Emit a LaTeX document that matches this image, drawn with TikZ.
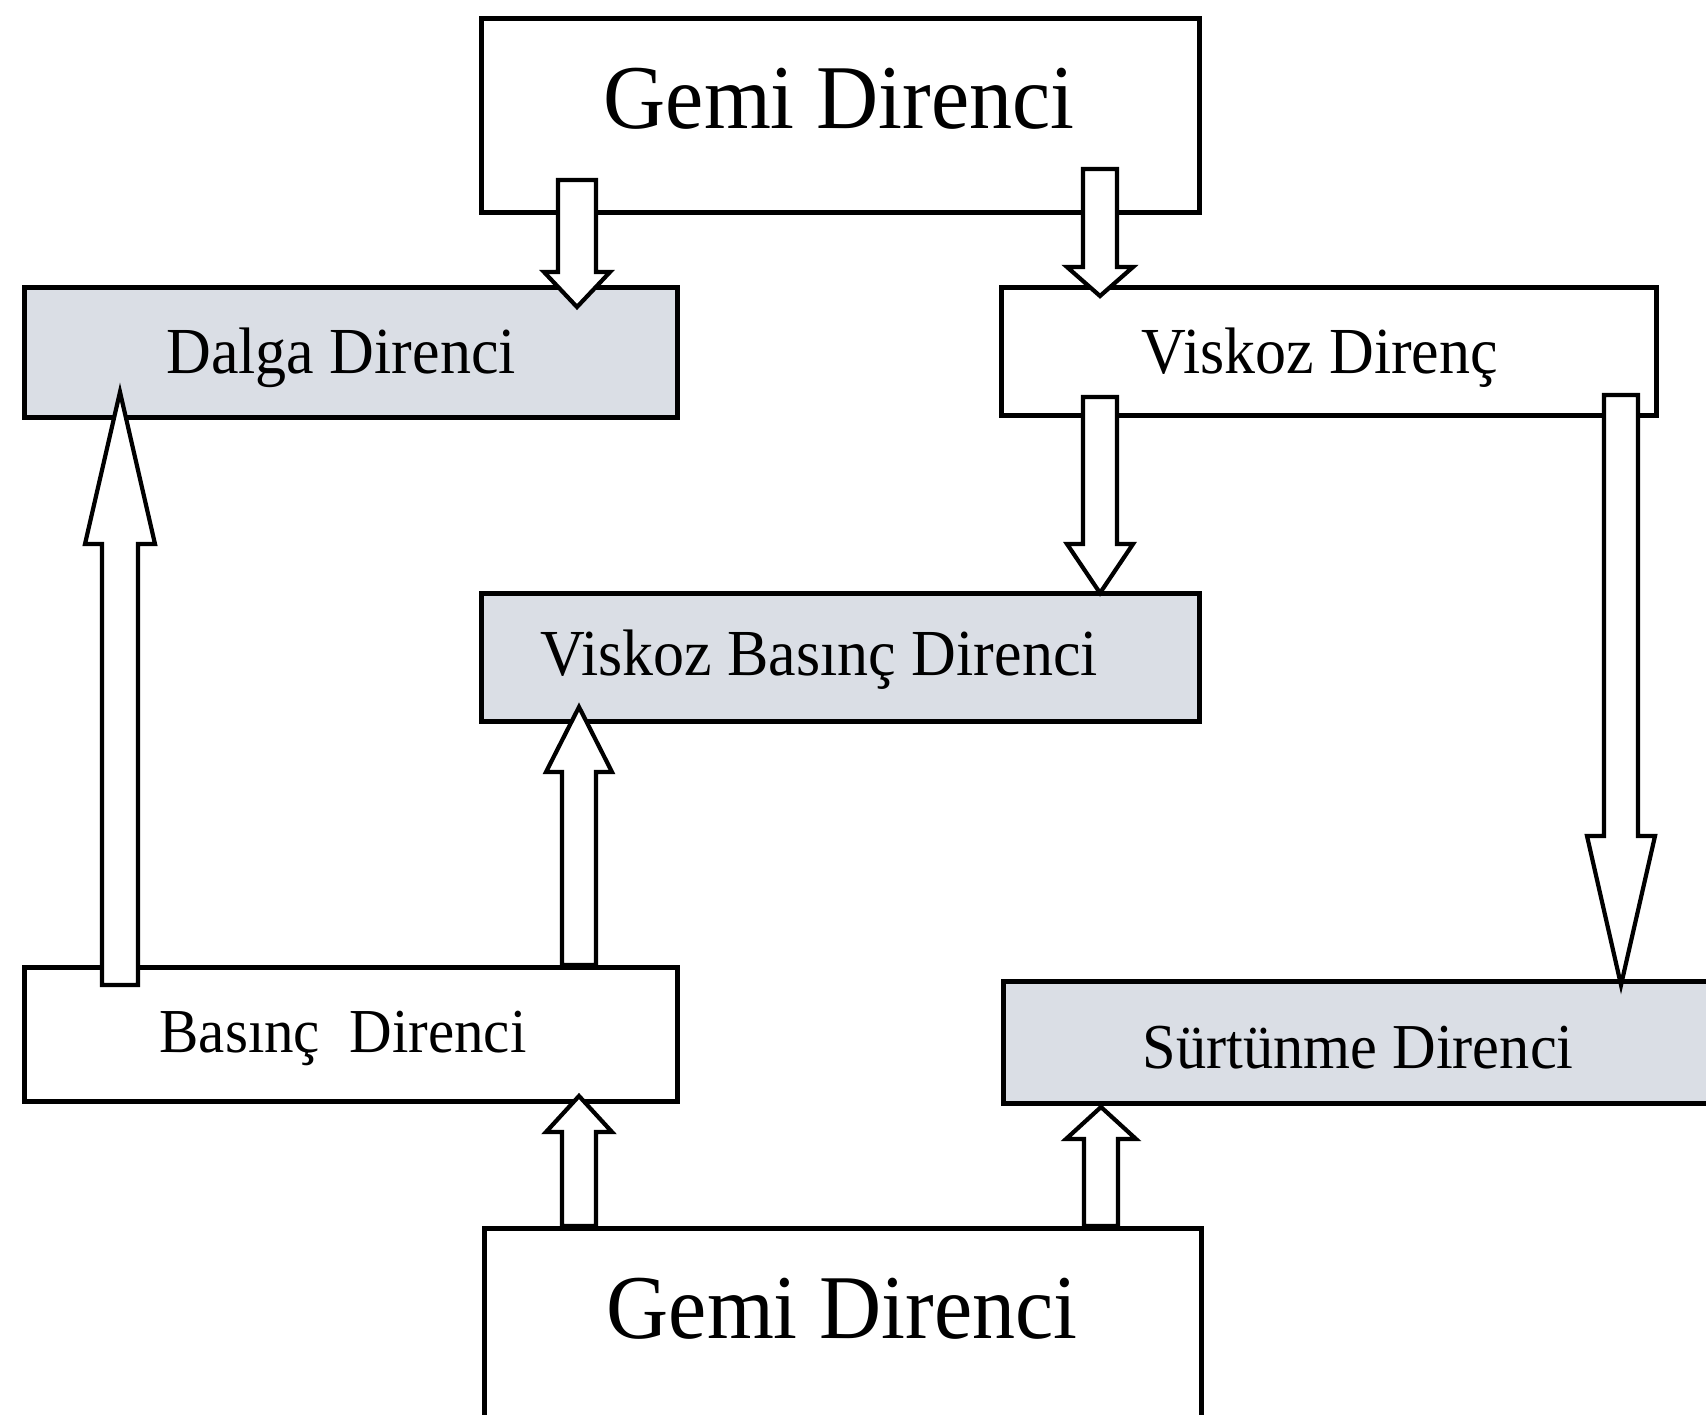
\documentclass[tikz,border=0pt]{standalone}
\usepackage{fontspec}
\setmainfont{Liberation Serif}
\usetikzlibrary{calc}
\definecolor{boxgray}{RGB}{218,222,229}
\tikzset{
  x=0.5pt, y=-0.5pt,
  box/.style={draw=black, line width=2.6pt, fill=white, rectangle, inner sep=0pt, anchor=north west},
  graybox/.style={box, fill=boxgray},
  barrow/.style={draw=black, line width=2.1pt, fill=white, line join=miter},
  bigtxt/.style={font=\fontsize{43}{50}\selectfont, anchor=base, inner sep=0pt},
  txt/.style={font=\fontsize{31}{36}\selectfont, anchor=base, inner sep=0pt},
}
% #1 start, #2 tip, #3 shaft half width, #4 head half width, #5 head length
\newcommand{\blockarr}[5]{%
  \draw[barrow] let \p1=(#1), \p2=(#2), \n1={((\y2>\y1)*2-1)*#5} in
    ({\x1-#3},\y1) -- ({\x1-#3},{\y2-\n1}) -- ({\x1-#4},{\y2-\n1}) -- (\x2,\y2)
    -- ({\x1+#4},{\y2-\n1}) -- ({\x1+#3},{\y2-\n1}) -- ({\x1+#3},\y1) -- cycle;}
\begin{document}
\begin{tikzpicture}
\useasboundingbox (0,0) rectangle (1706,1414);
\clip (0,0) rectangle (1706,1414);
\fill[white] (0,0) rectangle (1706,1414);

% boxes
\node[box, minimum width=359pt, minimum height=97pt] (top) at (479,16) {};
\node[graybox, minimum width=326.5pt, minimum height=65pt] (dalga) at (22,285) {};
\node[box, minimum width=327.5pt, minimum height=64pt] (visk) at (999,285) {};
\node[graybox, minimum width=359pt, minimum height=64pt] (vbd) at (479,591) {};
\node[box, minimum width=326.5pt, minimum height=67pt] (bas) at (22,965) {};
\node[graybox, minimum width=359.5pt, minimum height=61pt] (surt) at (1001,979) {};
\node[box, minimum width=358.5pt, minimum height=99.5pt] (bot) at (482,1226) {};

% texts
\node[bigtxt] (ttop) at (839,128) {\scalebox{1}[1.06]{Gemi Direnci}};
\node[txt] (tdalga) at (341,373) {\scalebox{1}[1.06]{Dalga Direnci}};
\node[txt] (tvisk) at (1320,373) {\scalebox{1}[1.06]{Viskoz Direnç}};
\node[txt] (tvbd) at (819,675) {\scalebox{1}[1.06]{Viskoz Basınç Direnci}};
\node[txt, font=\fontsize{29.5}{35}\selectfont] (tbas) at (343,1052) {\scalebox{1}[1.06]{Basınç\ \ Direnci}};
\node[txt, font=\fontsize{30.2}{35}\selectfont] (tsurt) at (1358,1068) {\scalebox{1}[1.06]{Sürtünme Direnci}};
\node[bigtxt] (tbot) at (842,1338) {\scalebox{1}[1.06]{Gemi Direnci}};

% arrow end points
\coordinate (a1s) at (577,180);  \coordinate (a1t) at (577,307);
\coordinate (a2s) at (1100,169); \coordinate (a2t) at (1100,296);
\coordinate (a3s) at (1100,397); \coordinate (a3t) at (1100,593);
\coordinate (a4s) at (1621,395); \coordinate (a4t) at (1621,985);
\coordinate (a5s) at (120,985);  \coordinate (a5t) at (120,392);
\coordinate (a6s) at (579,965);  \coordinate (a6t) at (579,707);
\coordinate (a7s) at (579,1226); \coordinate (a7t) at (579,1096);
\coordinate (a8s) at (1101,1226);\coordinate (a8t) at (1101,1107);

% top -> dalga, top -> visk
\blockarr{a1s}{a1t}{9.5pt}{16.5pt}{17.5pt}
\blockarr{a2s}{a2t}{8.5pt}{16.5pt}{14.5pt}
% visk -> vbd, visk -> surt
\blockarr{a3s}{a3t}{8.5pt}{16.5pt}{24.5pt}
\blockarr{a4s}{a4t}{8.5pt}{17pt}{74.5pt}
% bas -> dalga, bas -> vbd
\blockarr{a5s}{a5t}{9pt}{17.5pt}{76pt}
\blockarr{a6s}{a6t}{8.5pt}{16.5pt}{32.5pt}
% bot -> bas, bot -> surt
\blockarr{a7s}{a7t}{8.5pt}{16.5pt}{18pt}
\blockarr{a8s}{a8t}{8.5pt}{17.5pt}{16pt}
\end{tikzpicture}
\end{document}
